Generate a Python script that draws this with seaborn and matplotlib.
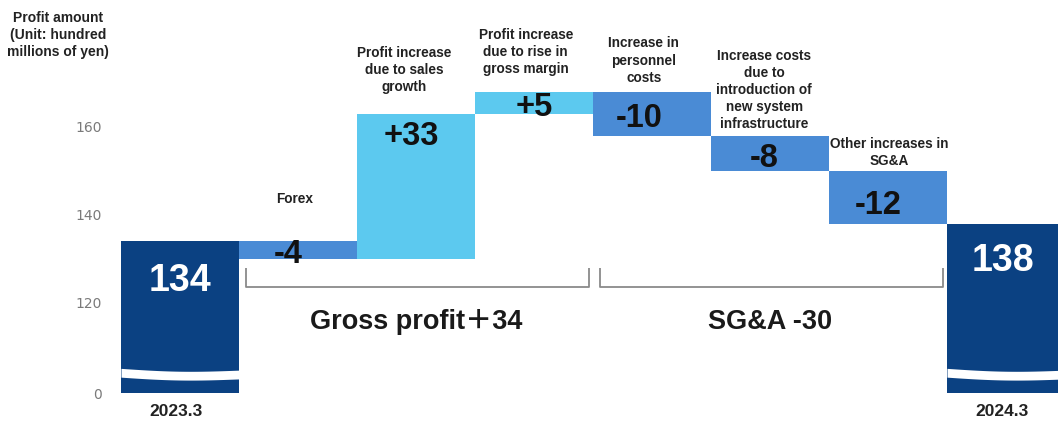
import numpy as np
import pandas as pd
import matplotlib
matplotlib.use("Agg")
import matplotlib.pyplot as plt
import matplotlib.transforms as mtransforms
import seaborn as sns

# ---------------- data ----------------
categories = ["2023.3", "Forex", "Sales growth", "Gross margin",
              "Personnel costs", "System infrastructure", "Other SG&A", "2024.3"]
values = [134, -4, 33, 5, -10, -8, -12, 138]
kinds = ["total", "decrease", "increase", "increase",
         "decrease", "decrease", "decrease", "total"]
value_labels = ["134", "-4", "+33", "+5", "-10", "-8", "-12", "138"]
step_labels = ["", "Forex",
               "Profit increase\ndue to sales\ngrowth",
               "Profit increase\ndue to rise in\ngross margin",
               "Increase in\npersonnel\ncosts",
               "Increase costs\ndue to\nintroduction of\nnew system\ninfrastructure",
               "Other increases in\nSG&A", ""]
x_labels = ["2023.3", "", "", "", "", "", "", "2024.3"]
y_ticks = [0, 120, 140, 160]
group_labels = ["Gross profit\uff0b34", "SG&A -30"]
group_members = [(1, 3), (4, 6)]
y_title = "Profit amount\n(Unit: hundred\nmillions of yen)"

# ---------------- style / layout ----------------
W, H, DPI = 1058, 421, 100
palette = {"total": "#0b4182", "decrease": "#4a8bd5", "increase": "#5cc9ef"}
BREAK_LOW = 99.5      # display position of value 0 (broken axis)
BREAK_AT = 120
PX_PER_UNIT = 4.4
AX_LEFT_PX, AX_BOTTOM_PX = 121, 393
BAR_PX = 118
# per-bar label tweaks (x shift in bar units, y shift in data units)
val_dx = [0.0, -0.08, -0.04, 0.0, -0.11, -0.05, -0.08, -0.03]
val_dy = [-9.0, -1.0, -5.3, -1.0, -1.2, -1.3, -2.0, -8.5]
step_dx = [0, -0.03, -0.10, -0.07, -0.07, -0.05, 0.01, 0]
step_gap_pt = [0, 25, 14, 11, 5, 3, 2, 0]

FONT = ["Liberation Sans", "DejaVu Sans", "Noto Sans CJK JP"]
sns.set_theme(style="white")
plt.rcParams["font.family"] = FONT


def disp(v):
    if v >= BREAK_AT:
        return v
    return BREAK_LOW + v * (BREAK_AT - BREAK_LOW) / BREAK_AT


# waterfall extents
lows, highs = [], []
running = 0
for v, k in zip(values, kinds):
    if k == "total":
        lo, hi = 0, v
        running = v
    else:
        lo, hi = min(running, running + v), max(running, running + v)
        running += v
    lows.append(lo)
    highs.append(hi)

df = pd.DataFrame({
    "category": categories,
    "span": [disp(h) - disp(l) for l, h in zip(lows, highs)],
    "kind": kinds,
})

fig = plt.figure(figsize=(W / DPI, H / DPI), dpi=DPI)
ax_h_px = AX_BOTTOM_PX
ax = fig.add_axes([AX_LEFT_PX / W, (H - AX_BOTTOM_PX) / H,
                   (W - AX_LEFT_PX) / W, ax_h_px / H])

sns.barplot(data=df, x="category", y="span", hue="kind", order=categories,
            hue_order=["total", "decrease", "increase"], palette=palette,
            dodge=False, width=1.0, saturation=1, legend=False,
            linewidth=0, edgecolor="none", ax=ax)

for p in ax.patches:
    h = p.get_height()
    if not np.isfinite(h):
        continue
    i = int(round(p.get_x() + p.get_width() / 2))
    p.set_y(disp(lows[i]))
    p.set_height(disp(highs[i]) - disp(lows[i]))
    p.set_zorder(2)

xmax = -0.5 + (W - AX_LEFT_PX) / BAR_PX
ymax = BREAK_LOW + ax_h_px / PX_PER_UNIT
ax.set_xlim(-0.5, xmax)
ax.set_ylim(BREAK_LOW, ymax)
for s in ax.spines.values():
    s.set_visible(False)

# white wave across total bars (broken axis symbol)
for i, k in enumerate(kinds):
    if k != "total":
        continue
    t = np.linspace(0, 1, 100)
    xs = i - 0.5 + t
    center = 104.1 - 0.45 * np.sin(np.pi * t) - 0.4 * t
    ax.fill_between(xs, center - 1.0, center + 1.0, color="white",
                    lw=0, zorder=3)

# axes ticks
ax.set_yticks([disp(v) for v in y_ticks])
ax.set_yticklabels([str(v) for v in y_ticks], color="#7a7a7a", fontsize=10,
                   family="DejaVu Sans")
ax.tick_params(axis="y", length=0, pad=14)
ax.set_xticks(range(len(categories)))
ax.set_xticklabels(x_labels, fontsize=12.5, fontweight="bold", color="#222222")
ax.tick_params(axis="x", length=0, pad=8)
shift = mtransforms.ScaledTranslation(-4 / DPI, 0, fig.dpi_scale_trans)
for lab in ax.get_xticklabels():
    lab.set_transform(lab.get_transform() + shift)
ax.set_xlabel("")
ax.set_ylabel("")

# value labels
for i, (lab, k) in enumerate(zip(value_labels, kinds)):
    if k == "total":
        y = disp(highs[i]) + val_dy[i]
        col, fs = "white", 27
    elif k == "increase" and values[i] > 20:
        y = disp(highs[i]) + val_dy[i]
        col, fs = "#111111", 23.5
    else:
        y = (disp(highs[i]) + disp(lows[i])) / 2 + val_dy[i]
        col, fs = "#111111", 23.5
    ax.text(i + val_dx[i], y, lab, ha="center", va="center", color=col,
            fontsize=fs, fontweight="bold", zorder=4)

# step descriptions above bars
for i, lab in enumerate(step_labels):
    if not lab:
        continue
    ax.annotate(lab, xy=(i + step_dx[i], disp(highs[i])),
                xytext=(0, step_gap_pt[i]), textcoords="offset points",
                ha="center", va="bottom", multialignment="center",
                fontsize=9.8, fontweight="bold", color="#222222",
                linespacing=1.28, zorder=1)

# group brackets
for (a, b), lab in zip(group_members, group_labels):
    x0, x1 = a - 0.5 + 0.06, b + 0.5 - 0.03
    yb, yt = 123.6, 127.9
    ax.plot([x0, x0, x1, x1], [yt, yb, yb, yt], color="#8a8a8a", lw=1.3,
            zorder=2, solid_capstyle="butt")
    ax.text((a + b) / 2, 115.6, lab, ha="center", va="center",
            fontsize=19.5, fontweight="bold", color="#1a1a1a", zorder=4)

fig.text(58 / W, 1 - 11 / H, y_title, ha="center", va="top",
         multialignment="center", fontsize=10, fontweight="bold",
         color="#222222", linespacing=1.29)

fig.savefig("out.png", dpi=DPI)
